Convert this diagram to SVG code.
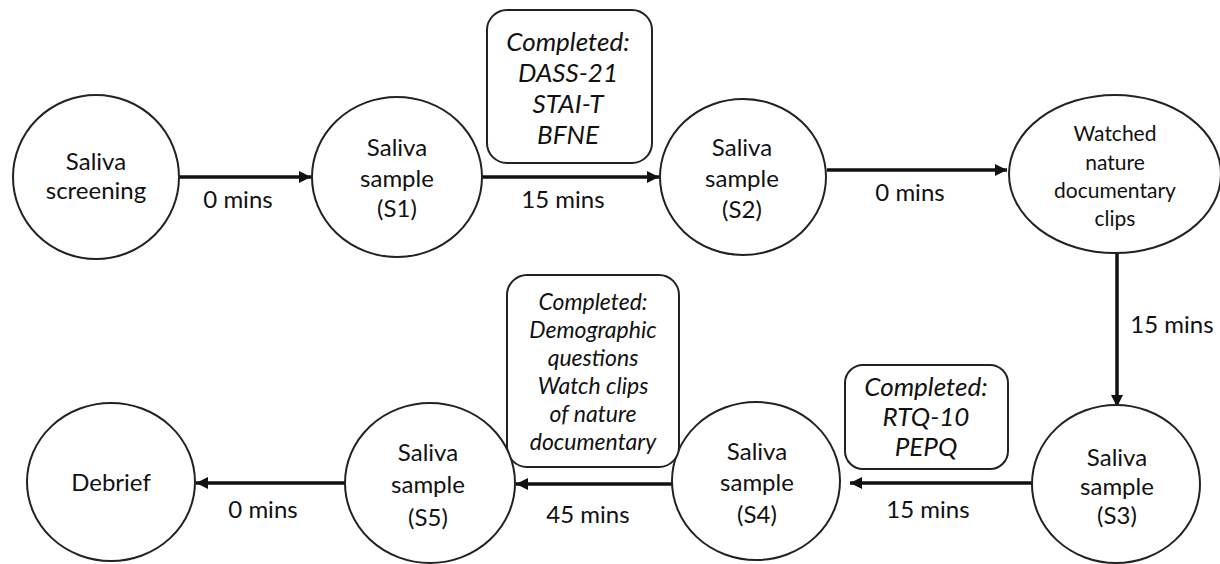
<svg xmlns="http://www.w3.org/2000/svg" width="1220" height="564" viewBox="0 0 1220 564">
<defs>
<style>
.node{fill:#fff;stroke:#222;stroke-width:2}
.box{fill:#fff;stroke:#222;stroke-width:2}
.t{font-family:Lato,"Liberation Sans",sans-serif;font-size:24px;fill:#111;text-anchor:middle}
.ts{font-size:21px}
.bi{font-family:Lato,"Liberation Sans",sans-serif;font-style:italic;font-size:26px;fill:#111;text-anchor:middle}
.bs{font-size:23px}
.edge{stroke:#111;stroke-width:3.5;fill:none;marker-end:url(#ah)}
</style>
<marker id="ah" markerUnits="userSpaceOnUse" markerWidth="14" markerHeight="14" refX="12" refY="6" orient="auto">
<path d="M0,0 L12,6 L0,12 Z" fill="#111"/>
</marker>
</defs>
<rect width="1220" height="564" fill="#fff"/>
<g id="connectors">
<line class="edge" x1="178" y1="177" x2="311" y2="177"/>
<line class="edge" x1="482" y1="177" x2="659" y2="177"/>
<line class="edge" x1="827" y1="170" x2="1007" y2="170"/>
<line class="edge" x1="1117" y1="253" x2="1117" y2="407"/>
<line class="edge" x1="1032" y1="483" x2="850" y2="483"/>
<line class="edge" x1="673" y1="484" x2="516" y2="484"/>
<line class="edge" x1="345" y1="483" x2="196" y2="483"/>
<text class="t" x="238" y="208">0 mins</text>
<text class="t" x="563" y="208">15 mins</text>
<text class="t" x="910" y="201">0 mins</text>
<text class="t" x="1172" y="333">15 mins</text>
<text class="t" x="928" y="518">15 mins</text>
<text class="t" x="588" y="523">45 mins</text>
<text class="t" x="263" y="518">0 mins</text>
</g>
<g id="screening">
<ellipse class="node" cx="96" cy="177" rx="83" ry="82"/>
<text class="t" x="96" y="170">Saliva</text>
<text class="t" x="96" y="199">screening</text>
</g>
<g id="s1">
<ellipse class="node" cx="397" cy="177" rx="85" ry="80"/>
<text class="t" x="397" y="156">Saliva</text>
<text class="t" x="397" y="187">sample</text>
<text class="t" x="397" y="217">(S1)</text>
</g>
<g id="box1">
<rect class="box" x="487" y="10" width="165" height="153" rx="20"/>
<text class="bi" x="568" y="51">Completed:</text>
<text class="bi" x="568" y="82">DASS-21</text>
<text class="bi" x="568" y="113">STAI-T</text>
<text class="bi" x="568" y="144">BFNE</text>
</g>
<g id="s2">
<ellipse class="node" cx="743" cy="177" rx="83" ry="78"/>
<text class="t" x="742" y="156">Saliva</text>
<text class="t" x="742" y="187">sample</text>
<text class="t" x="742" y="218">(S2)</text>
</g>
<g id="watched">
<ellipse class="node" cx="1115" cy="174" rx="106" ry="79"/>
<text class="t ts" x="1115" y="141">Watched</text>
<text class="t ts" x="1115" y="170">nature</text>
<text class="t ts" x="1115" y="198">documentary</text>
<text class="t ts" x="1115" y="226">clips</text>
</g>
<g id="s3">
<ellipse class="node" cx="1116" cy="484" rx="84" ry="79"/>
<text class="t" x="1117" y="466">Saliva</text>
<text class="t" x="1117" y="495">sample</text>
<text class="t" x="1117" y="524">(S3)</text>
</g>
<g id="box3">
<rect class="box" x="845" y="365" width="163" height="104" rx="18"/>
<text class="bi" x="926" y="396">Completed:</text>
<text class="bi" x="926" y="426">RTQ-10</text>
<text class="bi" x="926" y="456">PEPQ</text>
</g>
<g id="s4">
<ellipse class="node" cx="756" cy="481" rx="84" ry="79"/>
<text class="t" x="757" y="460">Saliva</text>
<text class="t" x="757" y="491">sample</text>
<text class="t" x="757" y="523">(S4)</text>
</g>
<g id="box2">
<rect class="box" x="507" y="275" width="172" height="192" rx="20"/>
<text class="bi bs" x="593" y="310">Completed:</text>
<text class="bi bs" x="593" y="338">Demographic</text>
<text class="bi bs" x="593" y="366">questions</text>
<text class="bi bs" x="593" y="394">Watch clips</text>
<text class="bi bs" x="593" y="422">of nature</text>
<text class="bi bs" x="593" y="450">documentary</text>
</g>
<g id="s5">
<ellipse class="node" cx="430" cy="483" rx="85" ry="80"/>
<text class="t" x="428" y="461">Saliva</text>
<text class="t" x="428" y="493">sample</text>
<text class="t" x="428" y="526">(S5)</text>
</g>
<g id="debrief">
<ellipse class="node" cx="111" cy="482" rx="84" ry="79"/>
<text class="t" x="111" y="491">Debrief</text>
</g>
</svg>
